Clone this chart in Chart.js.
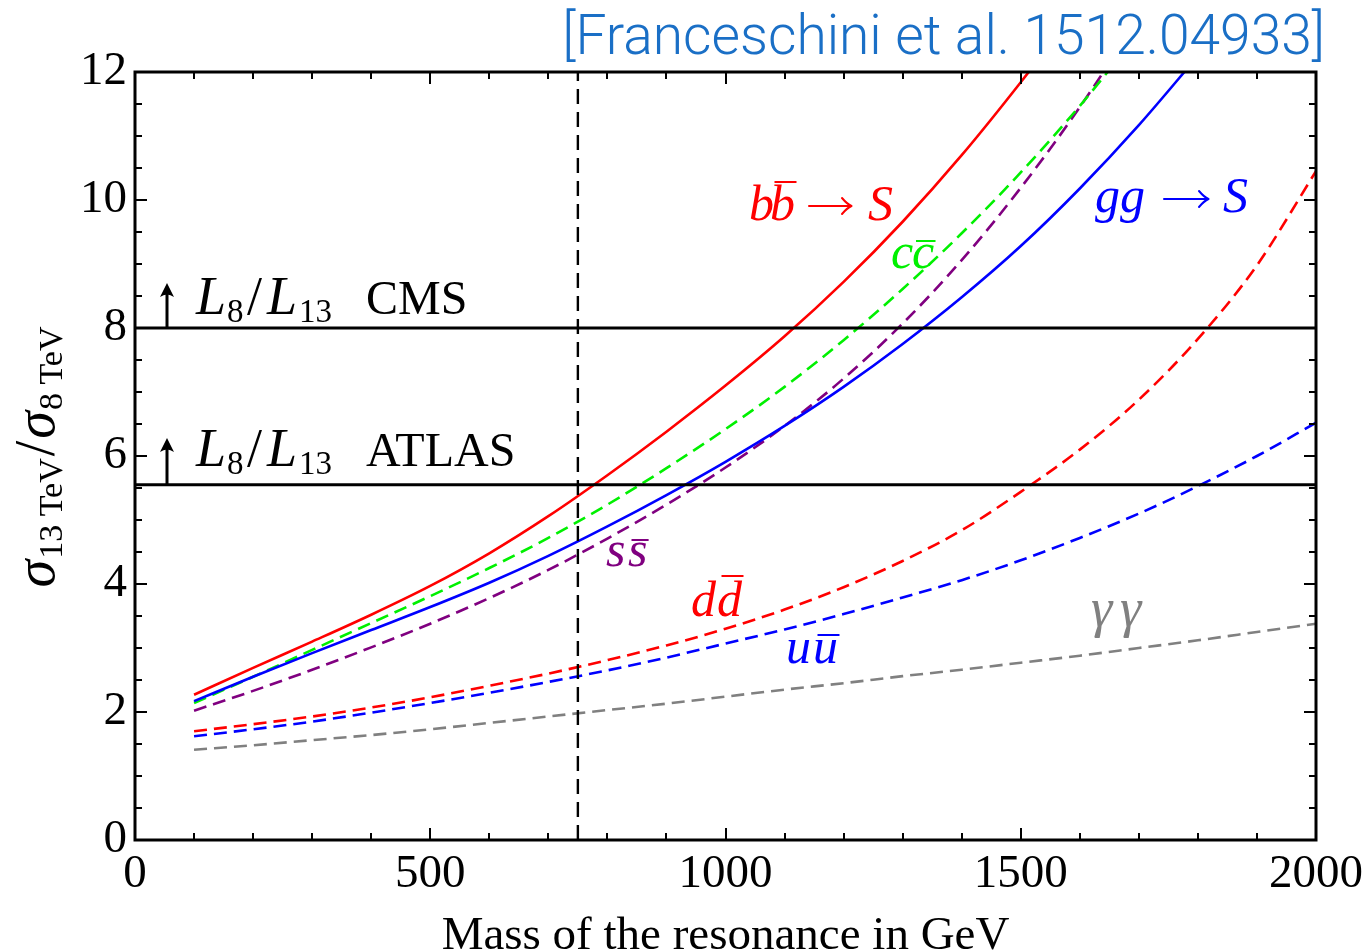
<!DOCTYPE html>
<html>
<head>
<meta charset="utf-8">
<title>σ13 TeV / σ8 TeV</title>
<script src="https://cdn.jsdelivr.net/npm/chart.js@4.4.1/dist/chart.umd.min.js"></script>
<style>
  html, body { margin: 0; padding: 0; background: #ffffff; }
  #wrap { width: 1370px; height: 952px; position: relative; }
</style>
</head>
<body>
<div id="wrap"><canvas id="c" width="1370" height="952"></canvas></div>
<script>
// Resonance mass in GeV
const mass = [100, 200, 300, 400, 500, 600, 700, 800, 900, 1000,
              1100, 1200, 1300, 1400, 1500, 1600, 1700, 1800, 1900, 2000];

// Cross-section ratio sigma(13 TeV) / sigma(8 TeV) per production channel
const bbS  = [2.27, 2.69, 3.10, 3.52, 3.97, 4.48, 5.06, 5.70, 6.38, 7.10, 7.87, 8.72, 9.66, 10.70, 11.84, 13.05, null, null, null, null];
const ccS  = [2.14, 2.55, 2.97, 3.39, 3.81, 4.25, 4.72, 5.24, 5.81, 6.42, 7.08, 7.81, 8.61, 9.48, 10.43, 11.47, 12.61, null, null, null];
const ssS  = [2.02, 2.33, 2.66, 3.01, 3.38, 3.78, 4.22, 4.71, 5.24, 5.82, 6.47, 7.21, 8.07, 9.06, 10.19, 11.45, 12.85, null, null, null];
const ggS  = [2.17, 2.55, 2.92, 3.28, 3.64, 4.02, 4.44, 4.90, 5.39, 5.91, 6.47, 7.08, 7.75, 8.48, 9.28, 10.18, 11.17, 12.25, null, null];
const ddS  = [1.70, 1.81, 1.93, 2.07, 2.23, 2.41, 2.60, 2.81, 3.04, 3.30, 3.60, 3.95, 4.36, 4.84, 5.44, 6.10, 6.88, 7.83, 8.98, 10.45];
const uuS  = [1.62, 1.73, 1.85, 1.99, 2.14, 2.30, 2.47, 2.65, 2.85, 3.07, 3.29, 3.53, 3.79, 4.06, 4.37, 4.72, 5.10, 5.53, 6.00, 6.52];
const aaS  = [1.41, 1.48, 1.56, 1.64, 1.73, 1.83, 1.93, 2.03, 2.13, 2.24, 2.35, 2.45, 2.56, 2.66, 2.77, 2.88, 3.00, 3.12, 3.25, 3.38];

// Luminosity-ratio thresholds and the 750 GeV excess
const cmsLevel = 8.0;
const atlasLevel = 5.55;
const excessMass = 750;

// Axis ticks
const xTicks = [0, 500, 1000, 1500, 2000];
const yTicks = [0, 2, 4, 6, 8, 10, 12];

const RED = '#ff0000', BLUE = '#0000ff', GREEN = '#00f000', PURPLE = '#800080', GRAY = '#808080';

const SERIF = '"Liberation Serif", "DejaVu Serif", serif';
const font = (size, italic) => (italic ? 'italic ' : '') + size + 'px ' + SERIF;

function pts(values) {
  const out = [];
  values.forEach((v, i) => { if (v !== null) out.push({ x: mass[i], y: v }); });
  return out;
}

function curve(values, color, dashed) {
  return {
    data: pts(values),
    borderColor: color,
    borderWidth: 2.6,
    borderDash: dashed ? [13, 7] : [],
    pointRadius: 0,
    fill: false,
    cubicInterpolationMode: 'monotone'
  };
}

function hline(level) {
  return {
    data: [{ x: 0, y: level }, { x: 2000, y: level }],
    borderColor: '#000000', borderWidth: 3, pointRadius: 0, fill: false
  };
}

const datasets = [
  hline(cmsLevel),
  hline(atlasLevel),
  {
    data: [{ x: excessMass, y: 0 }, { x: excessMass, y: 12 }],
    borderColor: '#000000', borderWidth: 2.4, borderDash: [15, 8], pointRadius: 0, fill: false
  },
  curve(bbS, RED, false),
  curve(ggS, BLUE, false),
  curve(ccS, GREEN, true),
  curve(ssS, PURPLE, true),
  curve(ddS, RED, true),
  curve(uuS, BLUE, true),
  curve(aaS, GRAY, true)
];

// Draws text pieces at fixed offsets; "bar" puts an overline on the piece
function textRun(ctx, x0, y0, pieces, color) {
  ctx.fillStyle = color;
  ctx.strokeStyle = color;
  ctx.textBaseline = 'alphabetic';
  ctx.textAlign = 'left';
  for (const p of pieces) {
    ctx.font = p.f;
    const x = x0 + p.dx, y = y0 + (p.dy || 0);
    ctx.fillText(p.t, x, y);
    if (p.bar) {
      const w = ctx.measureText(p.t).width;
      ctx.lineWidth = 2;
      ctx.beginPath();
      ctx.moveTo(x + w * 0.18, y - p.bar);
      ctx.lineTo(x + w * 1.06, y - p.bar);
      ctx.stroke();
    }
  }
}

// Rightwards arrow used in "→ S"
function rightArrow(ctx, x1, x2, y, color) {
  ctx.save();
  ctx.strokeStyle = color;
  ctx.lineWidth = 2;
  ctx.lineCap = 'round';
  ctx.beginPath();
  ctx.moveTo(x1, y); ctx.lineTo(x2, y);
  ctx.moveTo(x2 - 9, y - 8); ctx.quadraticCurveTo(x2 - 4, y - 2, x2 + 0.5, y);
  ctx.moveTo(x2 - 9, y + 8); ctx.quadraticCurveTo(x2 - 4, y + 2, x2 + 0.5, y);
  ctx.stroke();
  ctx.restore();
}

function upArrow(ctx, x, yBottom, yTip) {
  ctx.save();
  ctx.strokeStyle = '#000'; ctx.fillStyle = '#000';
  ctx.lineWidth = 3;
  ctx.beginPath();
  ctx.moveTo(x, yBottom);
  ctx.lineTo(x, yTip + 8);
  ctx.stroke();
  ctx.beginPath();
  ctx.moveTo(x, yTip);
  ctx.lineTo(x - 7, yTip + 14);
  ctx.quadraticCurveTo(x, yTip + 9, x + 7, yTip + 14);
  ctx.closePath();
  ctx.fill();
  ctx.restore();
}

const decorations = {
  id: 'decorations',
  afterDatasetsDraw(chart) {
    const { ctx, chartArea: a, scales: { x, y } } = chart;
    ctx.save();
    // frame
    ctx.strokeStyle = '#000';
    ctx.lineWidth = 3;
    ctx.strokeRect(a.left, a.top, a.right - a.left, a.bottom - a.top);
    // inward ticks on all four sides
    ctx.lineWidth = 2;
    ctx.beginPath();
    for (let m = 0; m <= 2000; m += 100) {
      const px = Math.round(x.getPixelForValue(m));
      const len = (m % 500 === 0) ? 12 : 7;
      ctx.moveTo(px, a.bottom); ctx.lineTo(px, a.bottom - len);
      ctx.moveTo(px, a.top); ctx.lineTo(px, a.top + len);
    }
    for (let v = 0; v <= 12; v += 0.5) {
      const py = Math.round(y.getPixelForValue(v));
      const len = (v % 2 === 0) ? 12 : 7;
      ctx.moveTo(a.left, py); ctx.lineTo(a.left + len, py);
      ctx.moveTo(a.right, py); ctx.lineTo(a.right - len, py);
    }
    ctx.stroke();
    ctx.restore();
  },
  afterDraw(chart) {
    const { ctx } = chart;
    ctx.save();

    // reference tag, top right
    const tag = '[Franceschini et al. 1512.04933]';
    let size = 52;
    ctx.font = '300 ' + size + 'px Roboto, "Liberation Sans", sans-serif';
    const w0 = ctx.measureText(tag).width;
    size = size * 763 / w0;
    ctx.font = '300 ' + size.toFixed(2) + 'px Roboto, "Liberation Sans", sans-serif';
    ctx.fillStyle = '#1a6fc6';
    ctx.textAlign = 'right';
    ctx.textBaseline = 'alphabetic';
    ctx.fillText(tag, 1325, 54);

    // vertical axis title: sigma_{13 TeV} / sigma_{8 TeV}
    const parts = [
      { t: 'σ', f: font(56, true), dy: 0 },
      { t: '13 TeV', f: font(34, false), dy: 8 },
      { t: '/', f: font(56, false), dy: 0 },
      { t: 'σ', f: font(56, true), dy: 0 },
      { t: '8 TeV', f: font(34, false), dy: 8 }
    ];
    const gaps = [1, 2, 2, 1, 0];
    let total = 0;
    parts.forEach((p, i) => { ctx.font = p.f; p.w = ctx.measureText(p.t).width; total += p.w + gaps[i]; });
    ctx.translate(54, 457);
    ctx.rotate(-Math.PI / 2);
    ctx.fillStyle = '#000';
    ctx.textAlign = 'left';
    let cx = -total / 2;
    parts.forEach((p, i) => { ctx.font = p.f; ctx.fillText(p.t, cx, p.dy); cx += p.w + gaps[i]; });
    ctx.setTransform(1, 0, 0, 1, 0, 0);

    // luminosity-ratio labels
    const lumi = (name) => [
      { t: 'L', f: font(54, true), dx: 0 },
      { t: '8', f: font(33, false), dx: 31, dy: 8 },
      { t: '/', f: font(54, false), dx: 51 },
      { t: 'L', f: font(54, true), dx: 71 },
      { t: '13', f: font(33, false), dx: 103, dy: 8 },
      { t: name, f: font(48, false), dx: 170 }
    ];
    textRun(ctx, 196, 314, lumi('CMS'), '#000');
    textRun(ctx, 196, 466, lumi('ATLAS'), '#000');
    upArrow(ctx, 167, 327, 283);
    upArrow(ctx, 167, 484, 438);

    // channel labels
    const I = font(50, true);
    textRun(ctx, 749, 220, [
      { t: 'b', f: I, dx: 0 },
      { t: 'b', f: I, dx: 21, bar: 38 }
    ], RED);
    rightArrow(ctx, 809, 851, 206, RED);
    textRun(ctx, 868, 220, [{ t: 'S', f: I, dx: 0 }], RED);

    textRun(ctx, 1095, 212, [
      { t: 'g', f: I, dx: 0 },
      { t: 'g', f: I, dx: 25 }
    ], BLUE);
    rightArrow(ctx, 1164, 1208, 199, BLUE);
    textRun(ctx, 1223, 212, [{ t: 'S', f: I, dx: 0 }], BLUE);

    textRun(ctx, 891, 268, [
      { t: 'c', f: I, dx: 0 },
      { t: 'c', f: I, dx: 21, bar: 27 }
    ], GREEN);
    textRun(ctx, 606, 566, [
      { t: 's', f: I, dx: 0 },
      { t: 's', f: I, dx: 22, bar: 26 }
    ], PURPLE);
    textRun(ctx, 691, 616, [
      { t: 'd', f: I, dx: 0 },
      { t: 'd', f: I, dx: 26, bar: 40 }
    ], RED);
    textRun(ctx, 786, 663, [
      { t: 'u', f: I, dx: 0 },
      { t: 'u', f: I, dx: 27, bar: 28 }
    ], BLUE);
    textRun(ctx, 1091, 626, [
      { t: 'γ', f: font(54, true), dx: 0 },
      { t: 'γ', f: font(54, true), dx: 29 }
    ], GRAY);

    ctx.restore();
  }
};

new Chart(document.getElementById('c'), {
  type: 'line',
  data: { datasets },
  options: {
    responsive: false,
    animation: false,
    events: [],
    layout: { padding: { top: 72, right: 54, left: 0, bottom: 0 } },
    plugins: { legend: { display: false }, tooltip: { enabled: false } },
    scales: {
      x: {
        type: 'linear', min: 0, max: 2000,
        afterBuildTicks: (s) => { s.ticks = xTicks.map(v => ({ value: v })); },
        afterFit: (s) => { s.height = 112; },
        grid: { display: false, drawTicks: false },
        border: { display: false },
        ticks: { color: '#000', padding: 6, font: { family: SERIF, size: 47 }, maxRotation: 0,
                 callback: (v) => String(v) },
        title: {
          display: true, text: 'Mass of the resonance in GeV', color: '#000',
          font: { family: SERIF, size: 47, lineHeight: 0.65 }, padding: 0
        }
      },
      y: {
        type: 'linear', min: 0, max: 12,
        afterBuildTicks: (s) => { s.ticks = yTicks.map(v => ({ value: v })); },
        afterFit: (s) => { s.width = 135; },
        grid: { display: false, drawTicks: false },
        border: { display: false },
        ticks: { color: '#000', padding: 8, font: { family: SERIF, size: 47 },
                 callback: (v) => String(v) }
      }
    }
  },
  plugins: [decorations]
});
</script>
</body>
</html>
